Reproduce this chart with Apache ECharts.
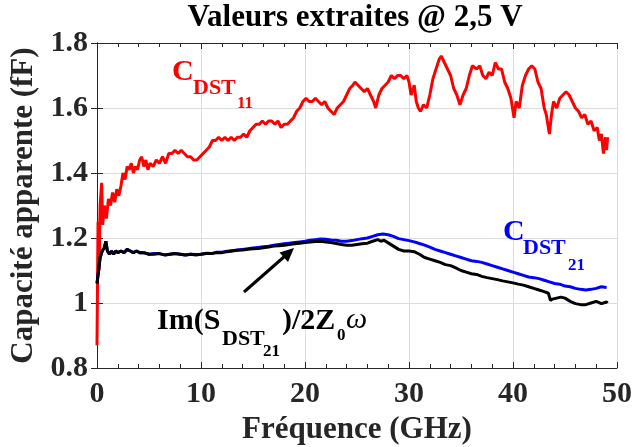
<!DOCTYPE html>
<html>
<head>
<meta charset="utf-8">
<script src="https://cdn.jsdelivr.net/npm/echarts@6.0.0/dist/echarts.min.js"></script>
<style>
html,body{margin:0;padding:0;background:#fff;}
#chart{width:632px;height:447px;}
</style>
</head>
<body>
<div id="chart"></div>
<script>
// ---- Data ----
const xTicks = [0, 10, 20, 30, 40, 50];
const yTicks = [0.8, 1.0, 1.2, 1.4, 1.6, 1.8];

// C_DST11 (red)
const freqC11 = [0.0,0.1,0.2,0.3,0.45,0.55,0.7,0.9,1.1,1.3,1.5,1.7,1.9,2.1,2.3,2.5,2.7,2.9,3.1,3.3,3.5,3.7,3.9,4.1,4.3,4.5,4.7,4.9,5.1,5.4,5.7,6.0,6.3,6.6,6.9,7.2,7.5,7.8,8.1,8.4,8.7,9.0,9.3,9.6,9.9,10.2,10.5,10.8,11.1,11.4,11.7,12.0,12.3,12.6,12.9,13.2,13.5,13.8,14.1,14.4,14.7,15.0,15.3,15.6,15.9,16.2,16.5,16.8,17.1,17.4,17.7,18.0,18.3,18.6,18.9,19.2,19.5,19.8,20.1,20.4,20.7,21.0,21.3,21.6,21.9,22.2,22.5,22.8,23.1,23.4,23.7,24.0,24.3,24.6,24.8,25.1,25.4,25.7,26.0,26.3,26.6,26.8,27.1,27.4,27.7,28.0,28.3,28.6,28.9,29.2,29.5,29.8,30.0,30.2,30.5,30.7,30.9,31.1,31.4,31.7,32.0,32.3,32.6,32.9,33.1,33.4,33.7,34.0,34.3,34.6,34.9,35.2,35.5,35.8,36.1,36.5,36.8,37.1,37.4,37.7,38.0,38.3,38.6,38.9,39.2,39.5,39.8,40.1,40.3,40.6,40.9,41.2,41.5,41.8,42.1,42.4,42.7,43.0,43.2,43.5,43.7,43.9,44.2,44.5,44.8,45.1,45.4,45.7,46.0,46.3,46.6,46.9,47.2,47.5,47.8,48.1,48.3,48.5,48.7,48.9,49.0,49.1];
const capC11 = [0.87,1.25,1.10,1.30,1.37,1.24,1.30,1.26,1.32,1.30,1.34,1.31,1.35,1.33,1.36,1.40,1.38,1.42,1.41,1.43,1.40,1.42,1.41,1.44,1.45,1.42,1.44,1.41,1.43,1.42,1.44,1.43,1.45,1.43,1.46,1.46,1.47,1.46,1.47,1.46,1.45,1.45,1.44,1.44,1.45,1.46,1.47,1.48,1.50,1.50,1.51,1.50,1.51,1.50,1.51,1.50,1.51,1.51,1.52,1.51,1.53,1.54,1.55,1.55,1.56,1.55,1.56,1.56,1.55,1.56,1.54,1.55,1.55,1.56,1.57,1.59,1.60,1.62,1.63,1.62,1.62,1.63,1.62,1.61,1.62,1.60,1.59,1.58,1.60,1.61,1.62,1.64,1.66,1.67,1.68,1.67,1.66,1.65,1.66,1.64,1.62,1.60,1.64,1.66,1.67,1.68,1.70,1.69,1.70,1.70,1.69,1.70,1.68,1.64,1.67,1.62,1.60,1.59,1.61,1.60,1.64,1.69,1.72,1.75,1.76,1.74,1.72,1.70,1.66,1.64,1.61,1.64,1.66,1.70,1.73,1.72,1.73,1.70,1.69,1.71,1.70,1.74,1.72,1.72,1.68,1.66,1.63,1.57,1.62,1.60,1.67,1.70,1.72,1.73,1.72,1.68,1.66,1.60,1.58,1.52,1.58,1.62,1.60,1.63,1.64,1.65,1.64,1.62,1.60,1.59,1.57,1.58,1.55,1.56,1.53,1.54,1.50,1.52,1.46,1.51,1.47,1.51];

// C_DST21 (blue)
const freqC21 = [0.0,0.15,0.3,0.5,0.7,0.85,1.0,1.2,1.4,1.6,1.8,2.0,2.3,2.6,2.9,3.2,3.5,3.8,4.1,4.5,5.0,5.5,6.0,6.5,7.0,7.5,8.0,8.5,9.0,9.5,10.0,10.5,11.0,11.5,12.0,12.5,13.0,13.5,14.0,14.5,15.0,15.5,16.0,16.5,17.0,17.5,18.0,18.5,19.0,19.5,20.0,20.5,21.0,21.5,22.0,22.5,23.0,23.5,24.0,24.5,25.0,25.5,26.0,26.5,27.0,27.5,28.0,28.5,29.0,29.5,30.0,30.5,31.0,31.5,32.0,32.5,33.0,33.5,34.0,34.5,35.0,35.5,36.0,36.5,37.0,37.5,38.0,38.5,39.0,39.5,40.0,40.5,41.0,41.5,42.0,42.5,43.0,43.5,44.0,44.5,45.0,45.5,46.0,46.5,47.0,47.5,48.0,48.5,49.0];
const capC21 = [1.06,1.10,1.14,1.16,1.17,1.19,1.16,1.15,1.16,1.15,1.16,1.155,1.16,1.155,1.165,1.16,1.155,1.16,1.155,1.155,1.15,1.152,1.152,1.148,1.15,1.152,1.15,1.148,1.15,1.149,1.15,1.153,1.152,1.156,1.156,1.159,1.161,1.163,1.165,1.167,1.169,1.171,1.173,1.175,1.178,1.18,1.182,1.184,1.186,1.188,1.19,1.193,1.195,1.197,1.196,1.194,1.193,1.19,1.19,1.192,1.195,1.198,1.2,1.205,1.21,1.212,1.21,1.205,1.198,1.195,1.192,1.188,1.183,1.178,1.172,1.165,1.16,1.155,1.15,1.145,1.14,1.135,1.13,1.128,1.125,1.12,1.115,1.11,1.105,1.1,1.095,1.09,1.085,1.08,1.078,1.075,1.07,1.065,1.06,1.058,1.052,1.05,1.045,1.042,1.04,1.042,1.045,1.05,1.048];

// Im(S_DST21)/2Z0ω (black)
const freqIm = [0.0,0.15,0.3,0.5,0.7,0.85,1.0,1.2,1.4,1.6,1.8,2.0,2.3,2.6,2.9,3.2,3.5,3.8,4.1,4.5,5.0,5.5,6.0,6.5,7.0,7.5,8.0,8.5,9.0,9.5,10.0,10.5,11.0,11.5,12.0,12.5,13.0,13.5,14.0,14.5,15.0,15.5,16.0,16.5,17.0,17.5,18.0,18.5,19.0,19.5,20.0,20.5,21.0,21.5,22.0,22.5,23.0,23.5,24.0,24.5,25.0,25.5,26.0,26.5,27.0,27.3,27.6,28.0,28.5,29.0,29.5,30.0,30.5,31.0,31.5,32.0,32.5,33.0,33.5,34.0,34.5,35.0,35.5,36.0,36.5,37.0,37.5,38.0,38.5,39.0,39.5,40.0,40.5,41.0,41.5,42.0,42.5,43.0,43.4,43.6,43.8,44.2,44.6,45.0,45.5,46.0,46.5,47.0,47.5,48.0,48.5,49.0,49.1];
const capIm = [1.06,1.10,1.14,1.16,1.17,1.19,1.16,1.15,1.16,1.15,1.16,1.155,1.16,1.155,1.165,1.16,1.155,1.16,1.155,1.155,1.15,1.15,1.152,1.148,1.15,1.152,1.15,1.148,1.15,1.148,1.15,1.152,1.152,1.155,1.155,1.158,1.16,1.162,1.163,1.165,1.167,1.168,1.17,1.172,1.175,1.176,1.178,1.18,1.182,1.184,1.186,1.188,1.189,1.19,1.188,1.186,1.183,1.18,1.178,1.178,1.18,1.182,1.184,1.19,1.195,1.19,1.193,1.185,1.175,1.165,1.16,1.16,1.158,1.15,1.14,1.135,1.13,1.125,1.118,1.115,1.108,1.1,1.095,1.09,1.088,1.082,1.078,1.075,1.072,1.068,1.065,1.062,1.058,1.055,1.05,1.045,1.04,1.035,1.03,1.008,1.012,1.015,1.018,1.015,1.005,0.998,0.995,0.995,1.0,1.005,0.998,1.003,1.0];

// ---- Chart ----
const FONT = 'Liberation Serif';
const pairs = (xs, ys) => xs.map((x, i) => [x, ys[i]]);
const chart = echarts.init(document.getElementById('chart'), null, {renderer: 'canvas'});

const axisLineStyle = {color: '#262626', width: 1};
const tickStyle = {color: '#262626', width: 1};
const gridColor = '#dcdcdc';

const option = {
  animation: false,
  backgroundColor: '#ffffff',
  grid: {left: 97, right: 15, top: 43, bottom: 79, containLabel: false, outerBoundsMode: 'none'},
  xAxis: [{
    type: 'value', min: xTicks[0], max: xTicks[xTicks.length - 1], interval: 10,
    position: 'bottom',
    name: 'Fréquence (GHz)', nameLocation: 'middle', nameGap: 46,
    nameTextStyle: {fontFamily: FONT, fontWeight: 'bold', fontSize: 31, color: '#262626'},
    axisLine: {show: true, lineStyle: axisLineStyle},
    axisTick: {show: true, inside: true, length: 6, lineStyle: tickStyle},
    minorTick: {show: true, splitNumber: 5, length: 4, lineStyle: tickStyle},
    splitLine: {show: true, lineStyle: {color: gridColor, width: 1}},
    axisLabel: {fontFamily: FONT, fontWeight: 'bold', fontSize: 30, color: '#262626', margin: 11}
  }, {
    type: 'value', min: xTicks[0], max: xTicks[xTicks.length - 1], interval: 10,
    position: 'top',
    axisLine: {show: true, lineStyle: axisLineStyle},
    axisTick: {show: true, inside: true, length: 6, lineStyle: tickStyle},
    minorTick: {show: true, splitNumber: 5, length: 4, lineStyle: tickStyle},
    splitLine: {show: false},
    axisLabel: {show: false}
  }],
  yAxis: [{
    type: 'value', min: yTicks[0], max: yTicks[yTicks.length - 1], interval: 0.2,
    position: 'left',
    name: 'Capacité apparente (fF)', nameLocation: 'middle', nameGap: 58,
    nameTextStyle: {fontFamily: FONT, fontWeight: 'bold', fontSize: 31, color: '#262626'},
    axisLine: {show: true, lineStyle: axisLineStyle},
    axisTick: {show: true, inside: true, length: 6, lineStyle: tickStyle},
    splitLine: {show: true, lineStyle: {color: gridColor, width: 1}},
    axisLabel: {fontFamily: FONT, fontWeight: 'bold', fontSize: 30, color: '#262626', margin: 9,
      formatter: v => String(Math.round(v * 10) / 10)}
  }, {
    type: 'value', min: yTicks[0], max: yTicks[yTicks.length - 1], interval: 0.2,
    position: 'right',
    axisLine: {show: true, lineStyle: axisLineStyle},
    axisTick: {show: true, inside: true, length: 6, lineStyle: tickStyle},
    splitLine: {show: false},
    axisLabel: {show: false}
  }],
  series: [
    {type: 'line', name: 'C_DST11', data: pairs(freqC11, capC11), showSymbol: false,
      lineStyle: {color: '#ff0000', width: 3}, itemStyle: {color: '#ff0000'}, z: 3},
    {type: 'line', name: 'C_DST21', data: pairs(freqC21, capC21), showSymbol: false,
      lineStyle: {color: '#0000ff', width: 3}, itemStyle: {color: '#0000ff'}, z: 4},
    {type: 'line', name: 'Im', data: pairs(freqIm, capIm), showSymbol: false,
      lineStyle: {color: '#000000', width: 3}, itemStyle: {color: '#000000'}, z: 5}
  ]
};
chart.setOption(option);

// annotations (text with subscripts)
const f = (size, italic) => (italic ? 'italic ' : 'bold ') + size + 'px "' + FONT + '"';
const g = [
  {type: 'text', x: 355, y: 18, z: 100,
    style: {text: 'Valeurs extraites @ 2,5 V', font: f(31), fill: '#000', align: 'center', verticalAlign: 'middle'}},
  // C_DST11
  {type: 'text', x: 172, y: 72, z: 100, style: {text: 'C', font: f(30), fill: '#ff0000', verticalAlign: 'middle'}},
  {type: 'text', x: 193, y: 88, z: 100, style: {text: 'DST', font: f(22), fill: '#ff0000', verticalAlign: 'middle'}},
  {type: 'text', x: 237, y: 104, z: 100, style: {text: '11', font: f(17), fill: '#ff0000', verticalAlign: 'middle'}},
  // C_DST21
  {type: 'text', x: 503, y: 232, z: 100, style: {text: 'C', font: f(30), fill: '#0000ff', verticalAlign: 'middle'}},
  {type: 'text', x: 523, y: 248, z: 100, style: {text: 'DST', font: f(22), fill: '#0000ff', verticalAlign: 'middle'}},
  {type: 'text', x: 568, y: 266, z: 100, style: {text: '21', font: f(17), fill: '#0000ff', verticalAlign: 'middle'}},
  // Im(S_DST21)/2Z0ω
  {type: 'text', x: 157, y: 321, z: 100, style: {text: 'Im(S', font: f(30), fill: '#000', verticalAlign: 'middle'}},
  {type: 'text', x: 222, y: 339, z: 100, style: {text: 'DST', font: f(22), fill: '#000', verticalAlign: 'middle'}},
  {type: 'text', x: 263, y: 352, z: 100, style: {text: '21', font: f(17), fill: '#000', verticalAlign: 'middle'}},
  {type: 'text', x: 282, y: 321, z: 100, style: {text: ')/2Z', font: f(30), fill: '#000', verticalAlign: 'middle'}},
  {type: 'text', x: 337, y: 336, z: 100, style: {text: '0', font: f(17), fill: '#000', verticalAlign: 'middle'}},
  {type: 'text', x: 346, y: 320, z: 100, style: {text: 'ω', font: f(30, true), fill: '#000', verticalAlign: 'middle'}},
  // arrow
  {type: 'line', z: 100, shape: {x1: 244, y1: 292, x2: 285, y2: 256}, style: {stroke: '#000', lineWidth: 3}},
  {type: 'polygon', z: 100, shape: {points: [[294, 248], [288, 262], [279.5, 252.5]]}, style: {fill: '#000'}}
];
chart.setOption({graphic: g});
</script>
</body>
</html>
